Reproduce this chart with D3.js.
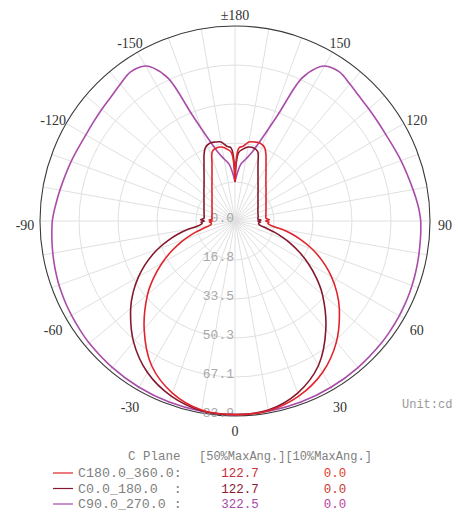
<!DOCTYPE html>
<html>
<head>
<meta charset="utf-8">
<script src="https://cdn.jsdelivr.net/npm/d3@7"></script>
<style>
  body { margin: 0; background: #fff; }
  svg { display: block; }
</style>
</head>
<body>
<div class="polarChart"></div>
<script>
// gamma angles (deg): 0 = straight down, + to the right, +-180 = straight up
var angles = [-180,-177,-174,-170,-166,-162,-158,-155,-152,-150,-145,-140,-135,-130,-125,-120,-110,-100,-95,-92,-90,-88,-86,-83,-80,-77,-74,-71,-68,-64,-60,-55,-50,-40,-30,-20,-10,0,
              10,20,30,40,50,55,60,64,68,71,74,77,80,83,86,88,90,92,95,100,110,120,125,130,135,140,145,150,152,155,158,162,166,170,174,177,180];

// intensities (cd)
var c180_360 = [16.8,29.5,31,32.3,32.5,31.5,26.4,23.4,21.1,19.8,17.3,15.4,14,12.9,12.1,11.4,10.5,10.1,9.9,11.2,9.8,11,10.3,10.3,11,13.9,17.8,21.7,25.7,31,36.3,42.8,49.1,60.8,71.8,78.8,82.6,83.3,
                82.9,80.2,75.3,67.9,58.6,53.5,47.9,43.1,38,34,29.7,25.3,20.5,15.5,14.2,14.6,13.2,14.8,13.4,13.5,14.2,15.4,16.3,17.4,18.9,20.7,23.2,26.7,28.4,31.5,34,35.2,35,34.5,32.3,31.4,16.8];
var c0_180   = [16.8,31.4,32.3,34.5,35,35.2,34,31.5,28.4,26.7,23.2,20.7,18.9,17.4,16.3,15.4,14.2,13.5,13.4,14.8,13.2,14.6,14.2,15.5,20.5,25.3,29.7,34,38,43.1,47.9,53.5,58.6,67.9,75.3,80.2,82.9,83.3,
                82.6,78.8,71.8,60.8,49.1,42.8,36.3,31,25.7,21.7,17.8,13.9,11,10.3,10.3,11,9.8,11.2,9.9,10.1,10.5,11.4,12.1,12.9,14,15.4,17.3,19.8,21.1,23.4,26.4,31.5,32.5,32.3,31,29.5,16.8];
var c90_270  = [16.8,21,24.7,27.1,30.6,37.2,49.3,67.6,74.5,77,78.3,76.8,75.5,74.8,74.3,74.1,75,76.5,77.5,78.2,78.6,78.8,79,79.3,79.6,79.9,80.2,80.5,80.7,81,81.2,81.5,81.8,82.2,82.6,82.9,83.1,83.3,
                83.1,82.9,82.6,82.3,82,81.8,81.6,81.4,81.2,81,80.8,80.6,80.4,80.2,80.1,80,79.9,79.6,79,77.8,76,74.8,74.8,75.1,75.7,76.9,78.3,77,74.5,67.6,49.3,37.2,30.6,27.1,24.7,21,16.8];

var ringValues = [0.0, 16.8, 33.5, 50.3, 67.1, 83.9];
var angleTicks = [-180,-150,-120,-90,-60,-30,0,30,60,90,120,150];
var angleLabels = ["\u00b1180","-150","-120","-90","-60","-30","0","30","60","90","120","150"];

var legendNames = ["C180.0_360.0:", "C0.0_180.0  :", "C90.0_270.0 :"];
var legendHalf  = ["122.7", "122.7", "322.5"];
var legendTenth = ["0.0", "0.0", "0.0"];

var width = 458, height = 513;
var cx = 235, cy = 221, R = 195;

var svg = d3.select(".polarChart")
  .append("svg")
    .attr("width", width)
    .attr("height", height);

var r = d3.scaleLinear().domain([0, 83.9]).range([0, R]);
var a = d3.scaleLinear().domain([-180, 180]).range([-Math.PI, Math.PI]);

var g = svg.append("g").attr("transform", "translate(" + cx + "," + cy + ")");

// gamma angle + value -> x,y (0 points down)
function pt(deg, v) {
  var t = a(deg), rr = r(v);
  return [rr * Math.sin(t), rr * Math.cos(t)];
}

// grid rings
g.selectAll(".ring")
  .data(ringValues.slice(1, 5))
  .enter().append("circle")
    .attr("r", function (d) { return r(d); })
    .attr("fill", "none")
    .attr("stroke", "#e0e0e0")
    .attr("stroke-width", 1);

// spokes every 10 deg
g.selectAll(".spoke")
  .data(d3.range(-170, 181, 10))
  .enter().append("line")
    .attr("x1", 0).attr("y1", 0)
    .attr("x2", function (d) { return pt(d, 83.9)[0]; })
    .attr("y2", function (d) { return pt(d, 83.9)[1]; })
    .attr("stroke", "#e0e0e0")
    .attr("stroke-width", 1);

// outer circle
g.append("circle")
  .attr("r", R)
  .attr("fill", "none")
  .attr("stroke", "#3a3a3a")
  .attr("stroke-width", 1.1);

// radial labels, right aligned on the centre line
g.selectAll(".rlab")
  .data(ringValues)
  .enter().append("text")
    .attr("x", -1)
    .attr("y", function (d) { return r(d) + 1; })
    .attr("text-anchor", "end")
    .attr("fill", "#a8a8a8")
    .attr("font-family", "Liberation Mono")
    .attr("font-size", "13px")
    .text(function (d) { return d.toFixed(1); });

var line = d3.line()
  .x(function (d) { return pt(d[0], d[1])[0]; })
  .y(function (d) { return pt(d[0], d[1])[1]; })
  .curve(d3.curveCatmullRom.alpha(0.5));

var series = [
  { values: c90_270, color: "#a94ca9" },
  { values: c0_180, color: "#86182e" },
  { values: c180_360, color: "#e0242c" }
];

series.forEach(function (s) {
  g.append("path")
    .datum(angles.map(function (d, i) { return [d, s.values[i]]; }))
    .attr("d", line)
    .attr("fill", "none")
    .attr("stroke", s.color)
    .attr("stroke-width", 1.6);
});

// angle labels just outside the ring
svg.selectAll(".alab")
  .data(angleTicks)
  .enter().append("text")
    .attr("x", function (d) { return cx + (R + 15) * Math.sin(a(d)); })
    .attr("y", function (d) { return cy + (R + 15) * Math.cos(a(d)) + (d === 0 ? 0 : 4) + 5; })
    .attr("text-anchor", "middle")
    .attr("fill", "#333")
    .attr("font-family", "Liberation Serif")
    .attr("font-size", "14px")
    .text(function (d, i) { return angleLabels[i]; });

// unit
svg.append("text")
  .attr("x", 402).attr("y", 408)
  .attr("fill", "#999")
  .attr("font-family", "Liberation Mono")
  .attr("font-size", "12px")
  .text("Unit:cd");

// legend
var legColors = ["#e0242c", "#86182e", "#a94ca9"];
var halfColors = ["#c8303c", "#8a1c34", "#a84aa8"];
var tenthColors = ["#e0402c", "#c83830", "#c040a0"];

svg.append("text")
  .attr("x", 128).attr("y", 460)
  .attr("fill", "#808080")
  .attr("font-family", "Liberation Mono")
  .attr("font-size", "12.5px")
  .text("C Plane");

svg.append("text")
  .attr("x", 199).attr("y", 460)
  .attr("fill", "#808080")
  .attr("font-family", "Liberation Mono")
  .attr("font-size", "12px")
  .text("[50%MaxAng.][10%MaxAng.]");

var rows = svg.selectAll(".leg")
  .data(legendNames)
  .enter().append("g")
    .attr("transform", function (d, i) { return "translate(0," + (477 + i * 15.5) + ")"; });

rows.append("line")
  .attr("x1", 53).attr("x2", 73)
  .attr("y1", -4).attr("y2", -4)
  .attr("stroke", function (d, i) { return legColors[i]; })
  .attr("stroke-width", 1.2);

rows.append("text")
  .attr("x", 78)
  .attr("fill", "#808080")
  .attr("font-family", "Liberation Mono")
  .attr("font-size", "13.3px")
  .attr("xml:space", "preserve")
  .text(function (d) { return d; });

rows.append("text")
  .attr("x", 240)
  .attr("text-anchor", "middle")
  .attr("fill", function (d, i) { return halfColors[i]; })
  .attr("font-family", "Liberation Mono")
  .attr("font-size", "12.5px")
  .text(function (d, i) { return legendHalf[i]; });

rows.append("text")
  .attr("x", 335)
  .attr("text-anchor", "middle")
  .attr("fill", function (d, i) { return tenthColors[i]; })
  .attr("font-family", "Liberation Mono")
  .attr("font-size", "12.5px")
  .text(function (d, i) { return legendTenth[i]; });
</script>
</body>
</html>
